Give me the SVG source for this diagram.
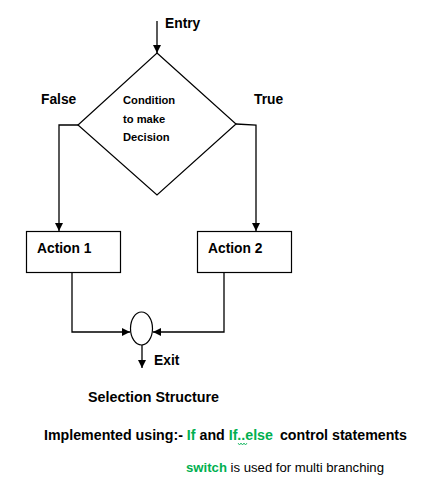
<svg xmlns="http://www.w3.org/2000/svg" width="423" height="489" viewBox="0 0 423 489">
<defs>
<marker id="ah" viewBox="0 0 10 10" refX="10" refY="5" markerWidth="8" markerHeight="8" markerUnits="userSpaceOnUse" orient="auto">
<path d="M0,0 L10,5 L0,10 z" fill="#000"/>
</marker>
</defs>
<style>
.b{font-family:"Liberation Sans",Arial,sans-serif;font-weight:bold;fill:#000}
.r{font-family:"Liberation Sans",Arial,sans-serif;fill:#000}
.g{fill:#00b050}
.ln{fill:none;stroke:#000;stroke-width:1.3}
.sh{fill:#fff;stroke:#000;stroke-width:1.2}
</style>
<rect width="423" height="489" fill="#fff"/>
<g id="connectors">
<path class="ln" d="M157,21 V53" marker-end="url(#ah)"/>
<path class="ln" d="M78,125 H59 V231" marker-end="url(#ah)"/>
<path class="ln" d="M236,124 L256,125 V231" marker-end="url(#ah)"/>
<path class="ln" d="M72,272 V332 H130" marker-end="url(#ah)"/>
<path class="ln" d="M224,272 V332 H153" marker-end="url(#ah)"/>
<path class="ln" d="M142,345 V368" marker-end="url(#ah)"/>
</g>
<g id="decision">
<polygon class="sh" points="157,53 236,124 157,195 78,125" stroke="#444"/>
<text class="b" font-size="11.2" x="123" y="104">Condition</text>
<text class="b" font-size="11.2" x="123" y="123">to make</text>
<text class="b" font-size="11.2" x="123" y="141">Decision</text>
</g>
<g id="action1">
<rect class="sh" x="26.5" y="231.5" width="94" height="41"/>
<text class="b" font-size="13.8" x="37" y="253">Action 1</text>
</g>
<g id="action2">
<rect class="sh" x="197.5" y="231.5" width="94" height="41"/>
<text class="b" font-size="13.8" x="208" y="253">Action 2</text>
</g>
<g id="junction">
<ellipse class="sh" cx="141.5" cy="328.5" rx="11" ry="16.5" stroke="#444"/>
</g>
<g id="labels">
<text class="b" font-size="13.8" x="165" y="28">Entry</text>
<text class="b" font-size="13.8" x="41" y="104">False</text>
<text class="b" font-size="13.8" x="254" y="104">True</text>
<text class="b" font-size="13.8" x="154" y="365">Exit</text>
<text class="b" font-size="14" x="88" y="402" textLength="131" lengthAdjust="spacingAndGlyphs">Selection Structure</text>
<text class="b" font-size="14" x="44" y="440" textLength="363" lengthAdjust="spacingAndGlyphs">Implemented using:- <tspan class="g">If</tspan> and <tspan class="g">If..else</tspan> <tspan dx="3">control statements</tspan></text>
<text class="r" font-size="13.2" x="186" y="472" textLength="198" lengthAdjust="spacingAndGlyphs"><tspan class="g" font-weight="bold">switch</tspan> is used for multi branching</text>
<path d="M238,443 l1.5,2 l1.5,-2 l1.5,2 l1.5,-2 l1.5,2 l1.5,-2" fill="none" stroke="#00b050" stroke-width="0.8"/>
</g>
</svg>
